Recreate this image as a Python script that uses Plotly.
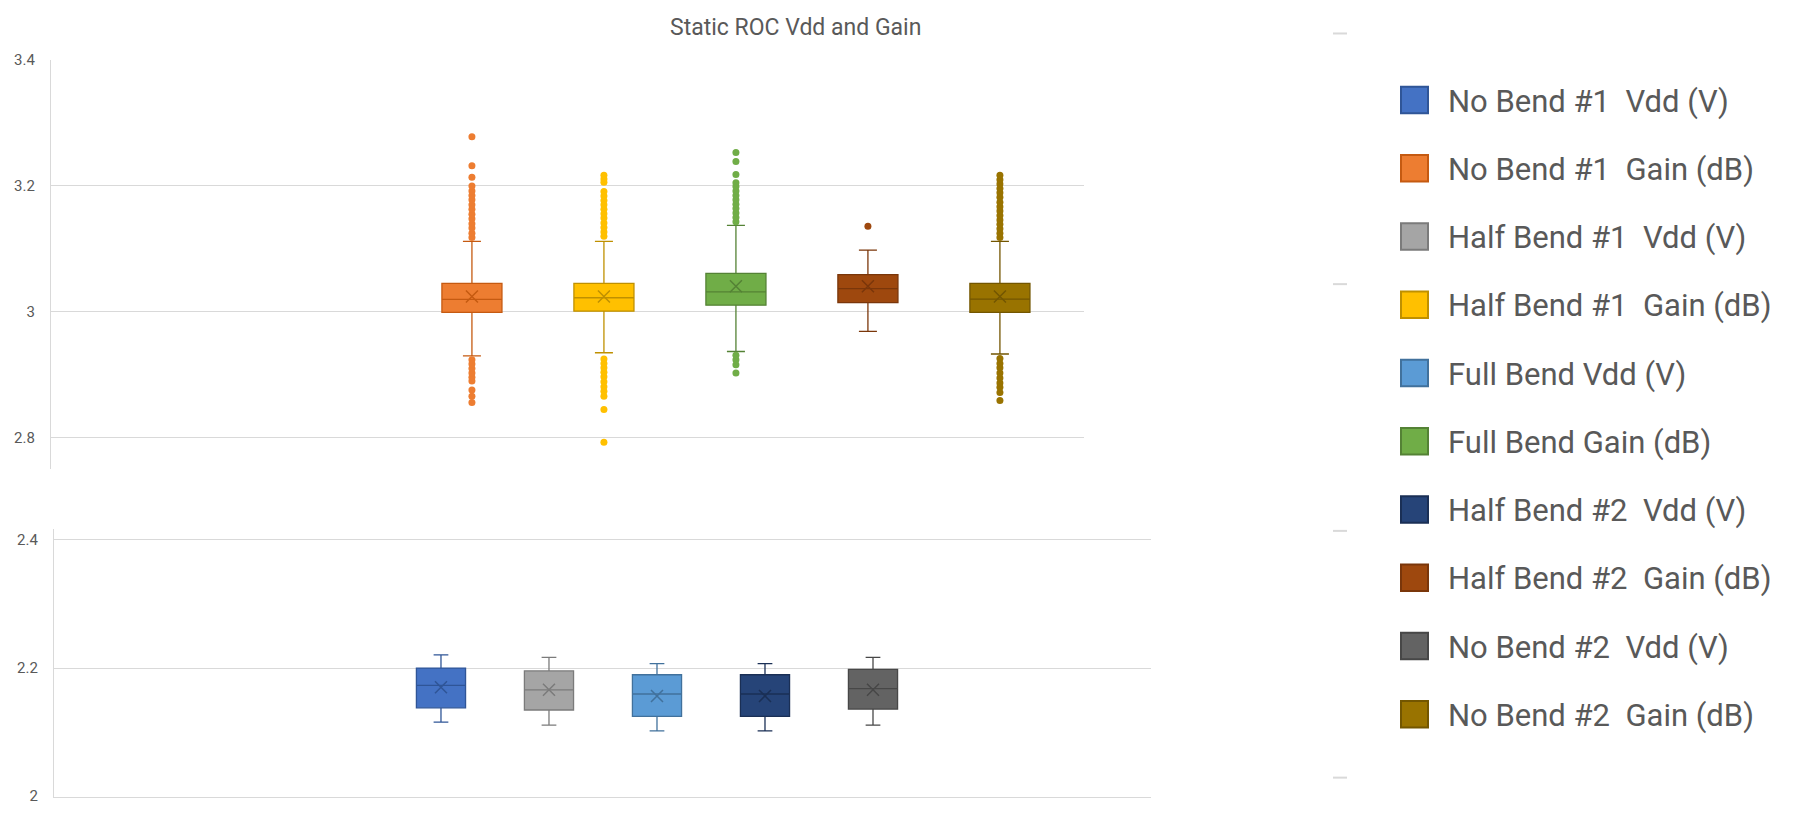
import plotly.graph_objects as go

# ---- series (legend order) -------------------------------------------------
names = [
    "No Bend #1\u00a0 Vdd (V)", "No Bend #1\u00a0 Gain (dB)",
    "Half Bend #1\u00a0 Vdd (V)", "Half Bend #1\u00a0 Gain (dB)",
    "Full Bend Vdd (V)", "Full Bend Gain (dB)",
    "Half Bend #2\u00a0 Vdd (V)", "Half Bend #2\u00a0 Gain (dB)",
    "No Bend #2\u00a0 Vdd (V)", "No Bend #2\u00a0 Gain (dB)",
]
fills = ["#4472C4", "#ED7D31", "#A5A5A5", "#FFC000", "#5B9BD5",
         "#70AD47", "#264478", "#9E480E", "#636363", "#997300"]
edges = ["#2F5597", "#C55A11", "#7B7B7B", "#BF9000", "#41719C",
         "#548235", "#1A2F55", "#7A360A", "#474747", "#735600"]

# ---- Vdd (V) statistics: No Bend #1, Half Bend #1, Full Bend, Half Bend #2, No Bend #2
vdd_low = [2.1155, 2.111, 2.102, 2.102, 2.111]
vdd_q1 = [2.138, 2.1345, 2.1245, 2.1245, 2.136]
vdd_median = [2.173, 2.166, 2.1595, 2.1595, 2.168]
vdd_q3 = [2.200, 2.1955, 2.1895, 2.1895, 2.198]
vdd_high = [2.2206, 2.2165, 2.207, 2.207, 2.2165]
vdd_mean = [2.170, 2.166, 2.1565, 2.1565, 2.166]

# ---- Gain (dB) statistics, same order
gain_low = [2.930, 2.935, 2.937, 2.969, 2.933]
gain_q1 = [2.999, 3.001, 3.0105, 3.0146, 2.999]
gain_median = [3.0198, 3.0224, 3.0318, 3.037, 3.0203]
gain_q3 = [3.0453, 3.0453, 3.061, 3.059, 3.0453]
gain_high = [3.112, 3.112, 3.1375, 3.098, 3.112]
gain_mean = [3.0245, 3.0245, 3.0406, 3.0406, 3.0245]
gain_outliers = [
    [3.278, 3.232, 3.214, 3.200, 3.192, 3.185, 3.178, 3.170, 3.163, 3.155,
     3.148, 3.140, 3.133, 3.125, 3.118,
     2.924, 2.917, 2.910, 2.903, 2.896, 2.890, 2.876, 2.866, 2.856],
    [3.217, 3.211, 3.206, 3.191, 3.184, 3.177, 3.170, 3.163, 3.156, 3.149,
     3.141, 3.134, 3.127, 3.120,
     2.925, 2.918, 2.911, 2.904, 2.897, 2.889, 2.881, 2.874, 2.866, 2.845, 2.793],
    [3.253, 3.239, 3.218, 3.205, 3.199, 3.192, 3.185, 3.178, 3.171, 3.164,
     3.157, 3.150, 3.143,
     2.931, 2.924, 2.916, 2.903],
    [3.136],
    [3.217, 3.210, 3.203, 3.196, 3.189, 3.182, 3.174, 3.167, 3.160, 3.153,
     3.146, 3.139, 3.132, 3.125, 3.118,
     2.926, 2.918, 2.911, 2.903, 2.895, 2.887, 2.880, 2.872, 2.859],
]

W, H = 1798, 815
TXT = "#595959"
GRID = "#D9D9D9"
FONT = "Roboto"


def px(x):
    return x / W


def py(y):
    return 1 - y / H


vdd_idx = [0, 2, 4, 6, 8]
gain_idx = [1, 3, 5, 7, 9]
vdd_names = [names[i] for i in vdd_idx]
gain_names = [names[i] for i in gain_idx]

fig = go.Figure()


def mean_marker(i):
    return dict(symbol="x-thin-open", size=12, color=edges[i],
                line=dict(color=edges[i], width=1.5))


# Vdd boxes (lower panel)
for k, i in enumerate(vdd_idx):
    fig.add_trace(go.Box(
        x=[names[i]], q1=[vdd_q1[k]], median=[vdd_median[k]], q3=[vdd_q3[k]],
        lowerfence=[vdd_low[k]], upperfence=[vdd_high[k]],
        name=names[i], xaxis="x2", yaxis="y2", width=0.455, whiskerwidth=0.3,
        fillcolor=fills[i], line=dict(color=edges[i], width=1.3),
        boxpoints=False, showlegend=False, hoverinfo="skip",
    ))
    fig.add_trace(go.Scatter(
        x=[names[i]], y=[vdd_mean[k]], xaxis="x2", yaxis="y2", mode="markers",
        marker=mean_marker(i), showlegend=False, hoverinfo="skip",
    ))

# Gain boxes (upper panel) with their outlier samples
for k, i in enumerate(gain_idx):
    fig.add_trace(go.Box(
        x=[names[i]], y=[gain_outliers[k]],
        q1=[gain_q1[k]], median=[gain_median[k]], q3=[gain_q3[k]],
        lowerfence=[gain_low[k]], upperfence=[gain_high[k]],
        name=names[i], xaxis="x", yaxis="y", width=0.455, whiskerwidth=0.3,
        fillcolor=fills[i], line=dict(color=edges[i], width=1.3),
        boxpoints="outliers", jitter=0, pointpos=0,
        marker=dict(color=fills[i], size=7, line=dict(width=0)),
        showlegend=False, hoverinfo="skip",
    ))
    fig.add_trace(go.Scatter(
        x=[names[i]], y=[gain_mean[k]], xaxis="x", yaxis="y", mode="markers",
        marker=mean_marker(i), showlegend=False, hoverinfo="skip",
    ))

axis_font = dict(family=FONT, size=15, color=TXT)

fig.update_layout(
    width=W, height=H,
    margin=dict(l=0, r=0, t=0, b=0),
    paper_bgcolor="white", plot_bgcolor="white",
    showlegend=False,
    xaxis=dict(domain=[px(51), px(1084)], anchor="y", type="category",
               categoryorder="array", categoryarray=gain_names,
               range=[-3.189, 4.637], showticklabels=False, showgrid=False,
               zeroline=False, showline=False),
    yaxis=dict(domain=[py(470), py(52)], anchor="x", range=[2.75, 3.4002],
               tickvals=[2.8, 3.0, 3.2, 3.4], ticktext=["2.8", "3", "3.2", "3.4"],
               showgrid=True, gridcolor=GRID, gridwidth=1.3, zeroline=False,
               showline=True, linecolor=GRID, linewidth=1.3,
               ticks="", ticklabelstandoff=12, ticklabeloverflow="allow",
               tickfont=axis_font),
    xaxis2=dict(domain=[px(54), px(1151)], anchor="y2", type="category",
                categoryorder="array", categoryarray=vdd_names,
                range=[-3.583, 6.574], showticklabels=False, showgrid=False,
                zeroline=False, showline=True, linecolor=GRID, linewidth=1.3),
    yaxis2=dict(domain=[py(805), py(531)], anchor="x2", range=[1.9985, 2.417],
                tickvals=[2.0, 2.2, 2.4], ticktext=["2", "2.2", "2.4"],
                showgrid=True, gridcolor=GRID, gridwidth=1.3, zeroline=False,
                showline=True, linecolor=GRID, linewidth=1.3,
                ticks="", ticklabelstandoff=12, ticklabeloverflow="allow",
                tickfont=axis_font),
)

shapes = []
annotations = [dict(text="Static ROC Vdd and Gain", xref="paper", yref="paper",
                    x=px(795), y=py(19), xanchor="center", yanchor="middle",
                    showarrow=False, font=dict(family=FONT, size=23, color=TXT))]

# Legend column on the right: square swatches with labels
for i, name in enumerate(names):
    yc = 93 + i * 69.7
    shapes.append(dict(type="rect", xref="paper", yref="paper",
                       x0=px(1401), x1=px(1428), y0=py(yc + 13.5), y1=py(yc - 13.5),
                       fillcolor=fills[i], line=dict(color=edges[i], width=2)))
    annotations.append(dict(text=name, xref="paper", yref="paper",
                            x=px(1446), y=py(yc + 1), xanchor="left", yanchor="middle",
                            showarrow=False,
                            font=dict(family=FONT, size=31, color=TXT)))

# faint dashes at the right of the plot area
for yd in [25, 281, 533, 785]:
    shapes.append(dict(type="line", xref="paper", yref="paper",
                       x0=px(1333), x1=px(1347), y0=py(yd), y1=py(yd),
                       line=dict(color=GRID, width=2)))

fig.update_layout(shapes=shapes, annotations=annotations)

fig.write_html("out.html")
